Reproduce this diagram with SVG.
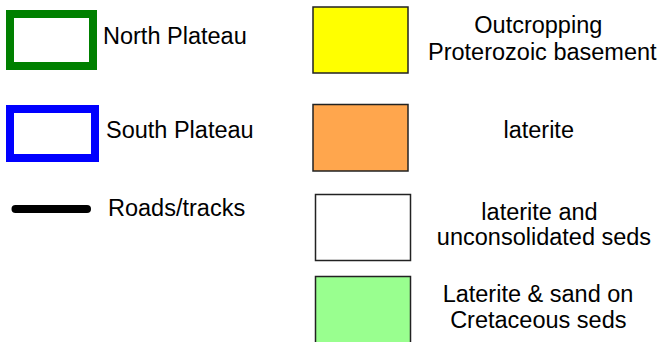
<svg xmlns="http://www.w3.org/2000/svg" width="662" height="342" viewBox="0 0 662 342">
<style>
text{font-family:"Liberation Sans",Arial,sans-serif;font-size:23.5px;fill:#000}
.c{text-anchor:middle}
.sw{stroke:#222;stroke-width:1.5}
</style>
<rect width="662" height="342" fill="#fff"/>
<g id="north-plateau">
<rect x="10" y="14" width="83" height="52" fill="#fff" stroke="#008000" stroke-width="8"/>
<text x="103" y="44">North Plateau</text>
</g>
<g id="south-plateau">
<rect x="10" y="109" width="85" height="49" fill="#fff" stroke="#0000ff" stroke-width="8"/>
<text x="106" y="138">South Plateau</text>
</g>
<g id="roads">
<line x1="15.5" y1="209" x2="87" y2="209" stroke="#000" stroke-width="8" stroke-linecap="round"/>
<text x="108" y="216">Roads/tracks</text>
</g>
<g id="basement">
<rect class="sw" x="313" y="7" width="95" height="66" fill="#ffff00"/>
<text class="c" x="538.3" y="33">Outcropping</text>
<text class="c" x="542.3" y="60">Proterozoic basement</text>
</g>
<g id="laterite">
<rect class="sw" x="313" y="104.5" width="95" height="66.5" fill="#ffa64d"/>
<text class="c" x="538.7" y="138">laterite</text>
</g>
<g id="laterite-unconsolidated">
<rect class="sw" x="315.5" y="194.5" width="95" height="66" fill="#fff"/>
<text class="c" x="539.5" y="220">laterite and</text>
<text class="c" x="544" y="245">unconsolidated seds</text>
</g>
<g id="laterite-sand">
<rect class="sw" x="315.5" y="276.5" width="95" height="80" fill="#99ff8f"/>
<text class="c" x="538" y="301.5">Laterite &amp; sand on</text>
<text class="c" x="538.3" y="328">Cretaceous seds</text>
</g>
<g id="connectors"/>
</svg>
